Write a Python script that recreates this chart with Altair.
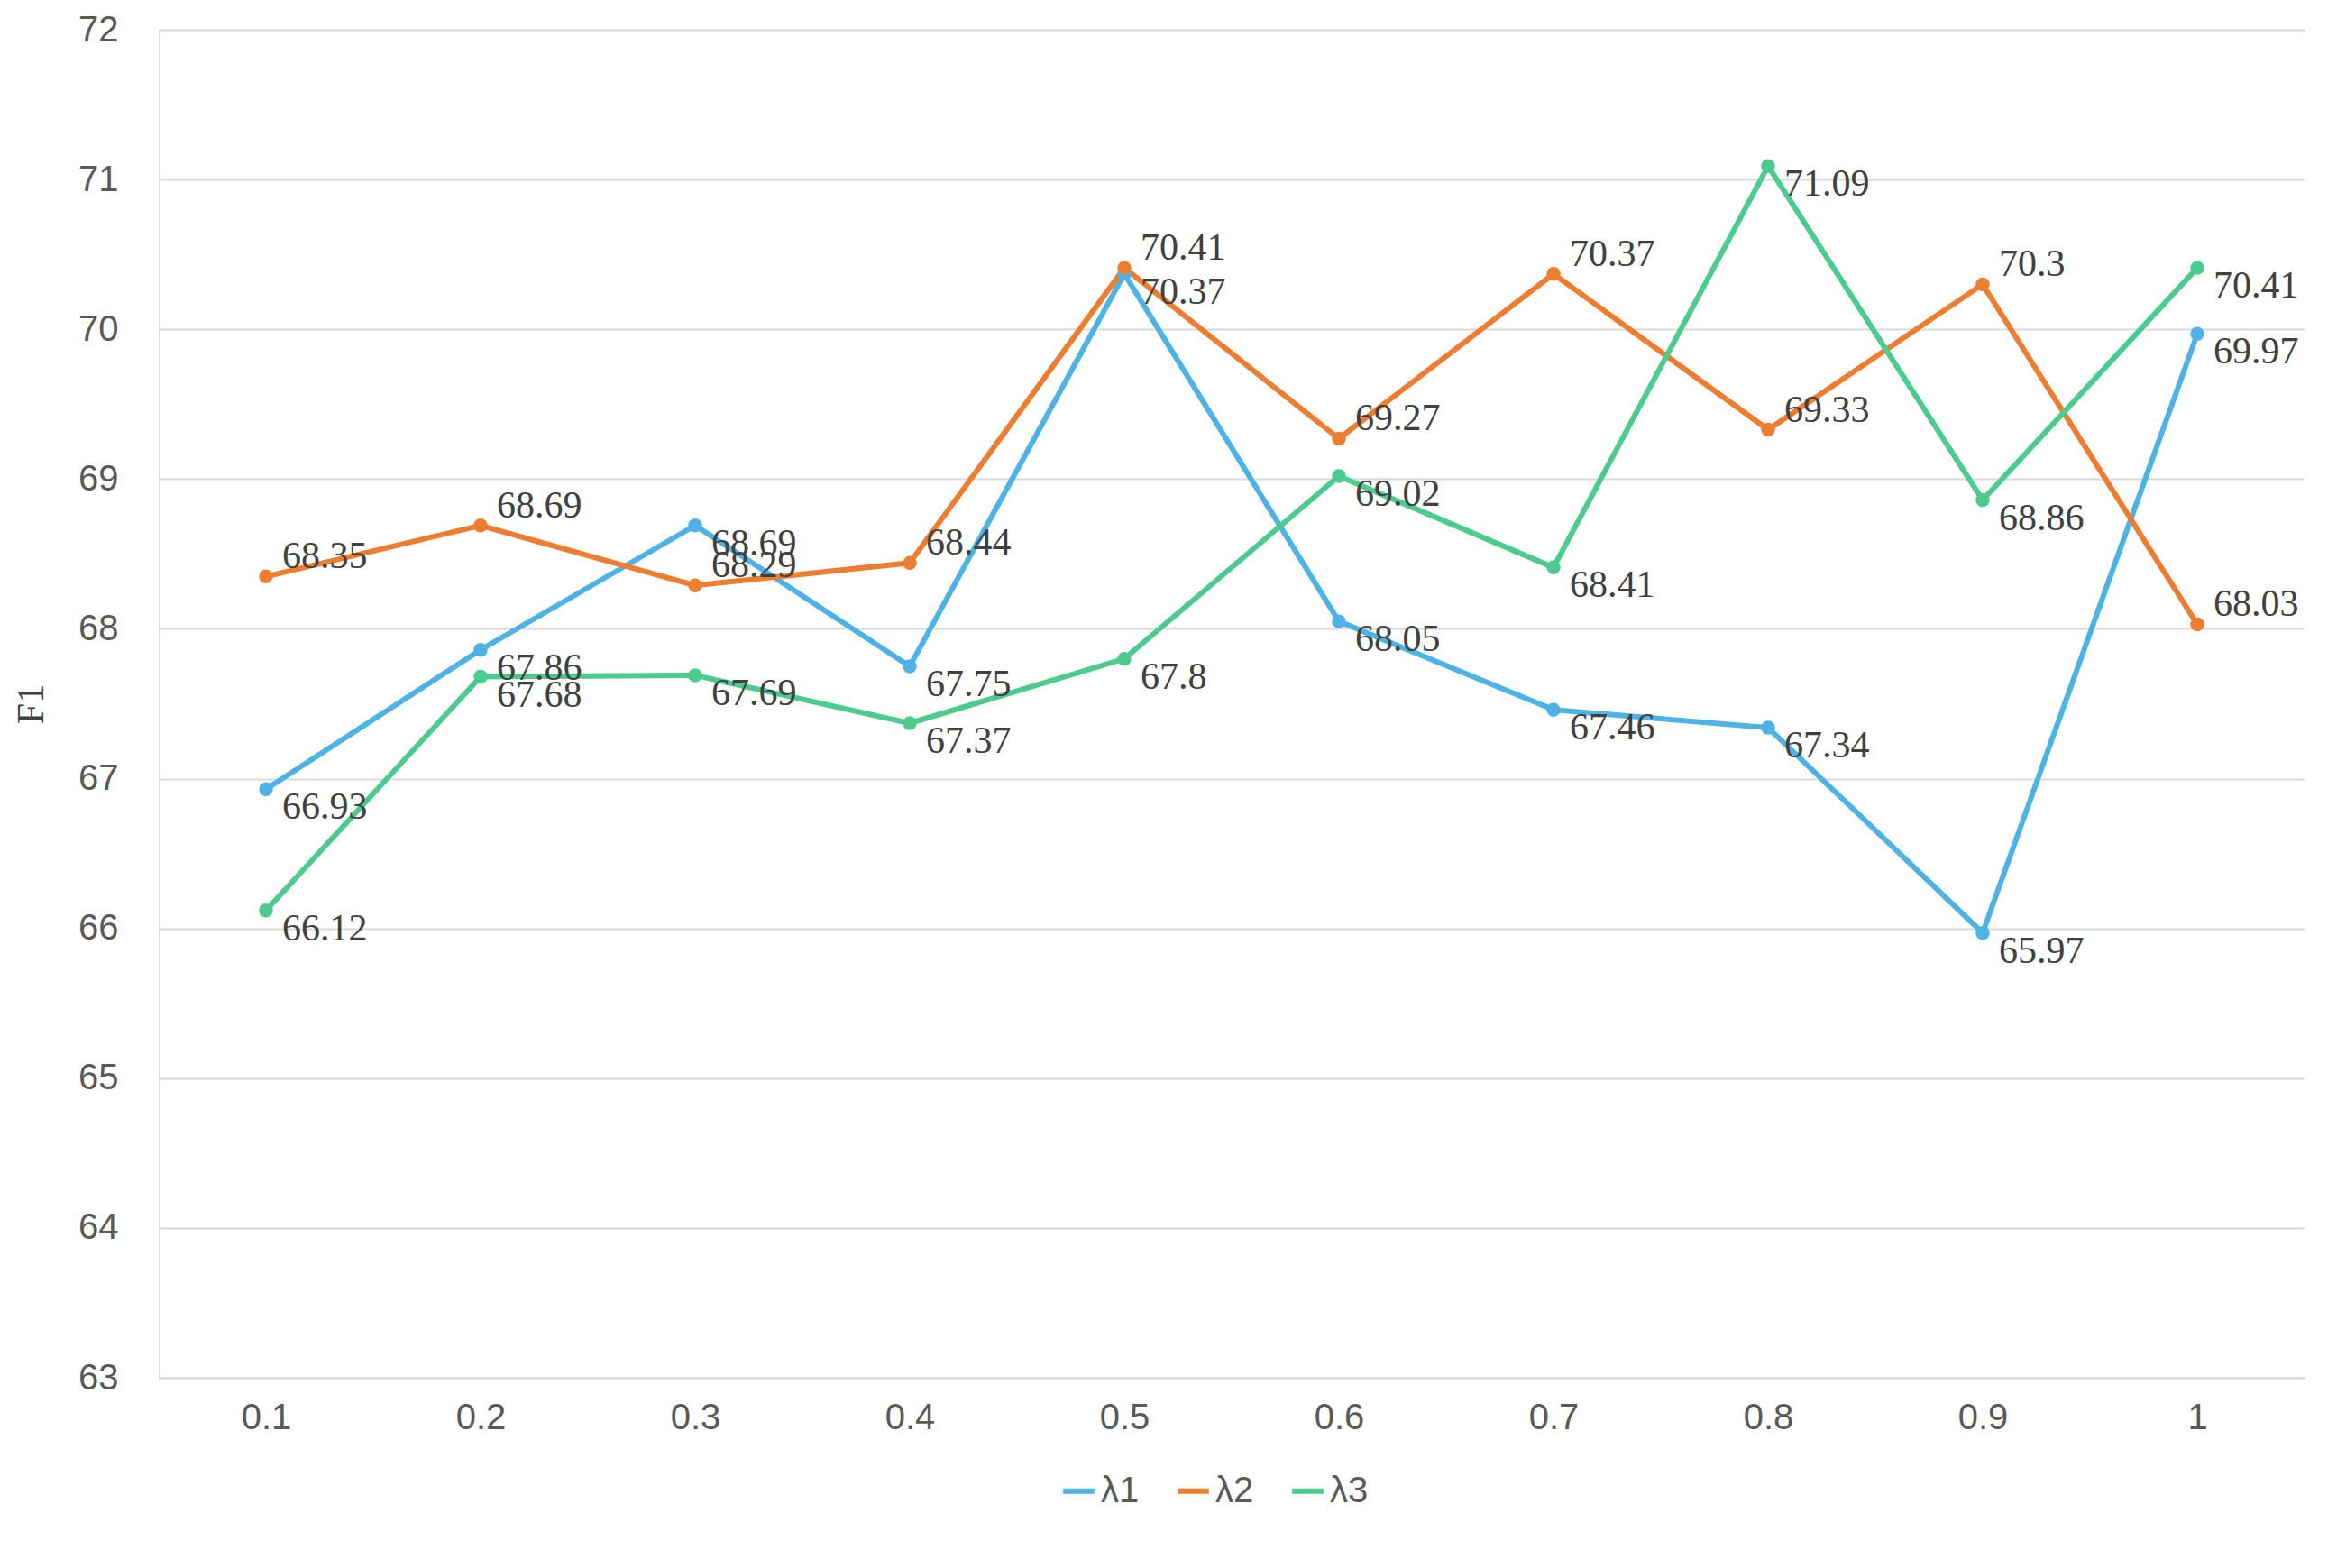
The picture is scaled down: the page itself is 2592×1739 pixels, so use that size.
import pandas as pd
import altair as alt

lambdas = ['0.1', '0.2', '0.3', '0.4', '0.5', '0.6', '0.7', '0.8', '0.9', '1']
lambda1 = [66.93, 67.86, 68.69, 67.75, 70.37, 68.05, 67.46, 67.34, 65.97, 69.97]
lambda2 = [68.35, 68.69, 68.29, 68.44, 70.41, 69.27, 70.37, 69.33, 70.3, 68.03]
lambda3 = [66.12, 67.68, 67.69, 67.37, 67.8, 69.02, 68.41, 71.09, 68.86, 70.41]
series = ['λ1', 'λ2', 'λ3']
colors = ['#4EB3E4', '#ED7D31', '#4DCB8E']

rows = []
for name, vals in zip(series, [lambda1, lambda2, lambda3]):
    for x, v in zip(lambdas, vals):
        rows.append({'lambda': x, 'F1': v, 'series': name, 'label': f"{v:g}"})
df = pd.DataFrame(rows)

x_enc = alt.X('lambda:N', sort=lambdas, title=None,
              scale=alt.Scale(paddingInner=0, paddingOuter=0.5),
              axis=alt.Axis(labelAngle=0, ticks=False, domain=True, domainColor='#d9d9d9',
                            domainWidth=2, labelFont='Liberation Sans', labelFontSize=40,
                            labelColor='#595959', labelPadding=24))
y_enc = alt.Y('F1:Q', title='F1', scale=alt.Scale(domain=[63, 72], nice=False, zero=False),
              axis=alt.Axis(values=list(range(63, 73)), labelOverlap=False, ticks=False,
                            domain=False, gridColor='#d9d9d9', gridWidth=2,
                            labelFont='Liberation Sans', labelFontSize=40, labelColor='#595959',
                            labelPadding=45, titleFont='Liberation Serif', titleFontSize=42,
                            titleFontWeight='normal', titleColor='#404040', titlePadding=30))
color = alt.Color('series:N', scale=alt.Scale(domain=series, range=colors),
                  legend=alt.Legend(orient='none', legendX=1000, legendY=1600, direction='horizontal',
                                    title=None, labelFont='Liberation Sans',
                                    labelFontSize=40, labelColor='#595959', symbolType='stroke',
                                    symbolStrokeWidth=6, symbolSize=1200, columnPadding=30))

base = alt.Chart(df).encode(x=x_enc, y=y_enc)
lines = base.mark_line(strokeWidth=6, point=alt.OverlayMarkDef(size=240, filled=True, opacity=1)).encode(
    color=color)

layers = [lines]
for name, dy in zip(series, [20, -22, 20]):
    layers.append(base.transform_filter(alt.datum.series == name).mark_text(
        align='left', baseline='middle', dx=18, dy=dy,
        font='Liberation Serif', fontSize=42, color='#404040').encode(text='label:N'))

chart = alt.layer(*layers).properties(width=2380, height=1495).configure_view(
    strokeWidth=0).configure(background='white')
chart.save("out.html", embed_options={"renderer": "svg", "actions": False})
